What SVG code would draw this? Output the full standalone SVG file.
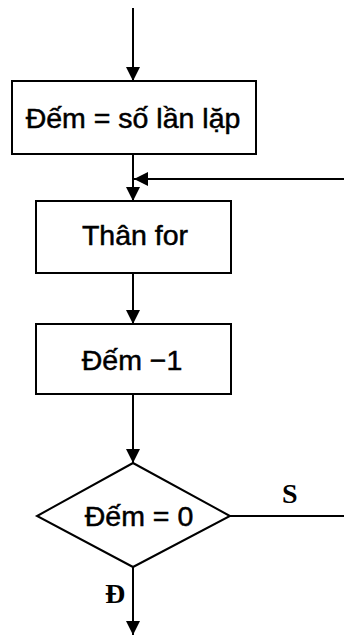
<svg xmlns="http://www.w3.org/2000/svg" width="344" height="635" viewBox="0 0 344 635">
  <style>
    .box { fill: #fff; stroke: #000; stroke-width: 2; }
    .line { fill: none; stroke: #000; stroke-width: 2; }
    .lbl { font-family: "Liberation Sans", Arial, sans-serif; font-size: 28.5px; fill: #000; stroke: #000; stroke-width: 0.5; text-anchor: middle; }
    .br { font-family: "Liberation Serif", "Times New Roman", serif; font-size: 28px; font-weight: bold; fill: #000; }
  </style>
  <defs>
    <marker id="arrow" markerUnits="userSpaceOnUse" markerWidth="14" markerHeight="14" viewBox="0 0 14 14" refX="14" refY="7" orient="auto">
      <path d="M0,0 L14,7 L0,14 Z" fill="#000"/>
    </marker>
  </defs>
  <rect width="344" height="635" fill="#fff"/>

  <g id="connectors">
    <line class="line" x1="133" y1="8" x2="133" y2="81" marker-end="url(#arrow)"/>
    <line class="line" x1="133" y1="154" x2="133" y2="201" marker-end="url(#arrow)"/>
    <line class="line" x1="344" y1="179" x2="134" y2="179" marker-end="url(#arrow)"/>
    <line class="line" x1="133" y1="273" x2="133" y2="324" marker-end="url(#arrow)"/>
    <line class="line" x1="133" y1="394" x2="133" y2="463" marker-end="url(#arrow)"/>
    <line class="line" x1="230" y1="516" x2="344" y2="516"/>
    <line class="line" x1="133" y1="567" x2="133" y2="635" marker-end="url(#arrow)"/>
    <text class="br" x="282" y="503">S</text>
    <text class="br" x="105" y="603">Đ</text>
  </g>

  <g id="init">
    <rect class="box" x="12" y="81" width="244" height="73"/>
    <text class="lbl" x="133" y="128">Đếm = số lần lặp</text>
  </g>

  <g id="body">
    <rect class="box" x="36" y="201" width="195" height="72"/>
    <text class="lbl" x="135" y="245">Thân for</text>
  </g>

  <g id="decrement">
    <rect class="box" x="36" y="324" width="195" height="70"/>
    <text class="lbl" x="132" y="370">Đếm −1</text>
  </g>

  <g id="check">
    <polygon class="box" points="133,463 230,516 133,567 37,516"/>
    <text class="lbl" x="139" y="526">Đếm = 0</text>
  </g>
</svg>
